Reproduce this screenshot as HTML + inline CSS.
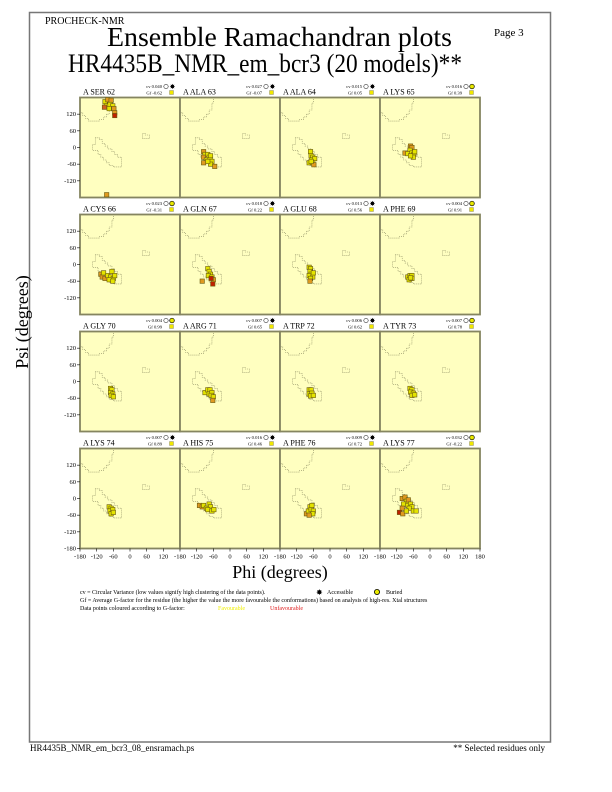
<!DOCTYPE html>
<html><head><meta charset="utf-8"><style>
body{margin:0;background:#fff}
svg{display:block}
text{font-family:"Liberation Serif",serif;fill:#000}
</style></head><body>
<svg id="page" width="612" height="792" viewBox="0 0 612 792" xmlns="http://www.w3.org/2000/svg">
<rect x="29.5" y="12.5" width="521" height="729.5" fill="none" stroke="#777" stroke-width="1.5"/>
<text x="45" y="24" font-size="10">PROCHECK-NMR</text>
<text x="494" y="36" font-size="11">Page  3</text>
<text x="107" y="46" font-size="27" textLength="345" lengthAdjust="spacingAndGlyphs">Ensemble Ramachandran plots</text>
<text x="68" y="72" font-size="26" textLength="394" lengthAdjust="spacingAndGlyphs">HR4435B_NMR_em_bcr3 (20 models)**</text>
<text transform="translate(28,322) rotate(-90)" font-size="18" text-anchor="middle">Psi (degrees)</text>
<text x="280" y="578" font-size="18" text-anchor="middle">Phi (degrees)</text>
<g id="panels"></g>
<g font-size="6">
<text x="80" y="594">cv = Circular Variance (low values signify high clustering of the data points).</text>
<text x="80" y="602">Gf = Average G-factor for the residue (the higher the value the more favourable the conformations) based on analysis of high-res. Xtal structures</text>
<text x="80" y="610">Data points coloured according to G-factor:</text>
<text x="218" y="610" style="fill:#f0f000">Favourable</text>
<text x="270" y="610" style="fill:#e02020">Unfavourable</text>
<text x="316" y="595" font-size="8">✸</text>
<text x="327" y="594">Accessible</text>
<circle cx="377" cy="592" r="2.6" fill="#e8e800" stroke="#000" stroke-width="0.8"/>
<text x="386" y="594">Buried</text>
</g>
<text x="30" y="751" font-size="9">HR4435B_NMR_em_bcr3_08_ensramach.ps</text>
<text x="545" y="751" font-size="9" text-anchor="end">** Selected residues only</text>
</svg>
<script>
const residueLabels=["A SER 62","A ALA 63","A ALA 64","A LYS 65","A CYS 66","A GLN 67","A GLU 68","A PHE 69","A GLY 70","A ARG 71","A TRP 72","A TYR 73","A LYS 74","A HIS 75","A PHE 76","A LYS 77"];
const cvValues=["0.040","0.027","0.015","0.016","0.023","0.018","0.013","0.004","0.004","0.007","0.006","0.007","0.007","0.016","0.009","0.032"];
const gfValues=["-0.62","-0.07","0.05","0.39","-0.31","0.22","0.56","0.91","0.99","0.65","0.62","0.78","0.89","0.46","0.72","-0.22"];
const buried=[0,0,0,1,1,0,0,1,1,0,0,1,0,0,0,1];
const phiTicks=[-180,-120,-60,0,60,120];
const psiTicks=[120,60,0,-60,-120];
const pointsPhi=[
[-90,-80,-68,-85,-72,-62,-75,-58,-55,-55,-92,-84],
[-95,-90,-95,-80,-75,-70,-85,-72,-65,-95,-70,-55,-80],
[-70,-68,-62,-65,-55,-75,-62,-58,-68],
[-70,-65,-72,-90,-80,-65,-58,-60,-70,-55],
[-105,-100,-95,-90,-80,-70,-65,-60,-55,-75,-62],
[-80,-75,-70,-78,-65,-60,-62,-100,-68],
[-75,-70,-72,-68,-75,-62,-70,-72,-60],
[-80,-72,-65,-75,-65,-70],
[-70,-65,-70,-62,-68,-60],
[-90,-80,-72,-75,-65,-68,-60,-62],
[-75,-68,-75,-65,-70,-60],
[-72,-65,-70,-60,-65,-55],
[-75,-68,-72,-62,-68,-60],
[-110,-100,-95,-85,-75,-70,-80,-65,-58],
[-85,-78,-72,-65,-68,-60,-62,-75],
[-100,-90,-85,-78,-95,-80,-70,-65,-75,-60,-50,-100,-110,-98,-85]];
const pointsPsi=[
[165,172,170,150,155,150,140,140,125,115,145,-170],
[-15,-25,-35,-25,-35,-30,-45,-45,-50,-55,-60,-68,-50],
[-15,-30,-35,-45,-40,-55,-55,-62,-50],
[5,0,-10,-20,-22,-20,-25,-35,-30,-15],
[-35,-45,-30,-50,-40,-45,-25,-50,-40,-55,-60],
[-15,-25,-35,-40,-45,-55,-70,-60,-50],
[-10,-15,-25,-35,-40,-45,-50,-60,-30],
[-45,-40,-40,-55,-50,-48],
[-25,-30,-40,-45,-50,-55],
[-40,-30,-30,-45,-40,-50,-55,-68],
[-30,-30,-45,-42,-52,-50],
[-25,-30,-38,-42,-50,-48],
[-30,-35,-45,-40,-55,-50],
[-25,-30,-25,-35,-20,-30,-40,-45,-40],
[-55,-45,-30,-25,-40,-45,-55,-60],
[0,5,-10,-5,-20,-25,-20,-30,-35,-45,-45,-35,-50,-55,-45]];
const pointsCls=[
"yooyyyyoorgo","oyoyyyyyyoyoy","yyyyyyyoy","ooyoyyyyyy","ooyoyyyyyyy","yyyyyoror","yyyyyyyoy","yyyyyy","yyyyyy","yyyyyyyo","yyyyyy","yyyyyy","yyyyyy","ooyyyyyyy","oyyyyyyo","ooyoyyyyyyyoroy"];
const colorMap={y:"#e4e400",o:"#e09a20",r:"#c02000",g:"#d06020"};
const betaPoly=[[-180,180],[-180,125],[-170,125],[-170,115],[-160,115],[-160,105],[-150,105],[-150,95],[-110,95],[-110,100],[-95,100],[-95,110],[-85,110],[-85,120],[-75,120],[-75,135],[-65,135],[-65,160],[-60,160],[-60,180]];
const alphaPoly=[[-125,35],[-110,35],[-110,28],[-100,28],[-100,15],[-90,15],[-90,5],[-80,5],[-80,-5],[-65,-5],[-65,-15],[-55,-15],[-55,-25],[-45,-25],[-45,-35],[-30,-35],[-30,-70],[-60,-70],[-60,-65],[-75,-65],[-75,-55],[-85,-55],[-85,-45],[-95,-45],[-95,-35],[-105,-35],[-105,-25],[-115,-25],[-115,-10],[-135,-10],[-135,10],[-125,10]];
const lhPoly=[[45,50],[55,50],[55,45],[70,45],[70,32],[45,32]];

const NS="http://www.w3.org/2000/svg";
const g=document.getElementById('panels');
const PX0=80,PY0=97.5,PW=100,PH=100,ROWP=117;
function mk(tag,attrs,parent){const e=document.createElementNS(NS,tag);for(const k in attrs)e.setAttribute(k,attrs[k]);parent.appendChild(e);return e;}
function xs(phi,x0){return x0+(phi+180)/360*PW;}
function ys(psi,y0){return y0+(180-psi)/360*PH;}
for(let i=0;i<16;i++){
  const r=Math.floor(i/4),c=i%4;
  const x0=PX0+c*PW,y0=PY0+r*ROWP;
  const pg=mk('g',{},g);
  
  
  const bg=mk('rect',{x:x0,y:y0,width:PW,height:PH,fill:'#ffffc0'},pg);
  
  
  [betaPoly,alphaPoly,lhPoly].forEach((poly,k)=>{
    const p=mk('polygon',{points:poly.map(q=>xs(q[0],x0)+','+ys(q[1],y0)).join(' '),fill:'none',stroke:'#8a8a60','stroke-width':0.6,'stroke-dasharray':'1,1'},pg);
    
    
  });
  const fr=mk('rect',{x:x0,y:y0,width:PW,height:PH,fill:'none',stroke:'#858560','stroke-width':1.8},pg);
  
  
  const t=mk('text',{x:x0+3,y:y0-3,'font-size':8},pg);t.textContent=residueLabels[i];
  
  
  const cv=mk('text',{x:x0+82,y:y0-9.5,'font-size':4.6,'text-anchor':'end'},pg);cv.textContent='cv '+cvValues[i];
  
  
  const gf=mk('text',{x:x0+82,y:y0-3,'font-size':4.6,'text-anchor':'end'},pg);gf.textContent='Gf '+gfValues[i];
  
  
  const ic=mk('circle',{cx:x0+86,cy:y0-11,r:2.2,fill:'#fff',stroke:'#000','stroke-width':0.5},pg);
  
  
  if(buried[i]){const b=mk('circle',{cx:x0+92,cy:y0-11,r:2.3,fill:'#e8e800',stroke:'#000','stroke-width':0.7},pg);
    
    }
  else{const a=mk('text',{x:x0+89.5,y:y0-8.5,'font-size':7},pg);a.textContent='✸';
    
    }
  const sq=mk('rect',{x:x0+89.5,y:y0-7,width:4,height:4,fill:'#f0e800',stroke:'#777','stroke-width':0.4},pg);
  
  
  for(let j=0;j<pointsPhi[i].length;j++){
    const px=xs(pointsPhi[i][j],x0),py=ys(pointsPsi[i][j],y0);
    const pt=mk('rect',{x:px-2.2,y:py-2.2,width:4.4,height:4.4,fill:colorMap[pointsCls[i][j]],stroke:'#6a5a10','stroke-width':0.6},pg);
    
    
  }
  if(c===0){
    const tk=psiTicks.concat(r===3?[-180]:[]);
    tk.forEach(v=>{
      const y=ys(v,y0);
      const l=mk('line',{x1:x0-3,x2:x0,y1:y,y2:y,stroke:'#000','stroke-width':0.6},pg);
      
      
      const tt=mk('text',{x:x0-4,y:y+2,'font-size':6.5,'text-anchor':'end'},pg);tt.textContent=v;
      
      
    });
  }
  if(r===3){
    const tk=phiTicks.concat(c===3?[180]:[]);
    tk.forEach(v=>{
      const x=xs(v,x0);
      const l=mk('line',{x1:x,x2:x,y1:y0+PH,y2:y0+PH+3,stroke:'#000','stroke-width':0.6},pg);
      
      
      const tt=mk('text',{x:x,y:y0+PH+10,'font-size':6.5,'text-anchor':'middle'},pg);tt.textContent=v;
      
      
    });
  }
}
</script>
</body></html>
